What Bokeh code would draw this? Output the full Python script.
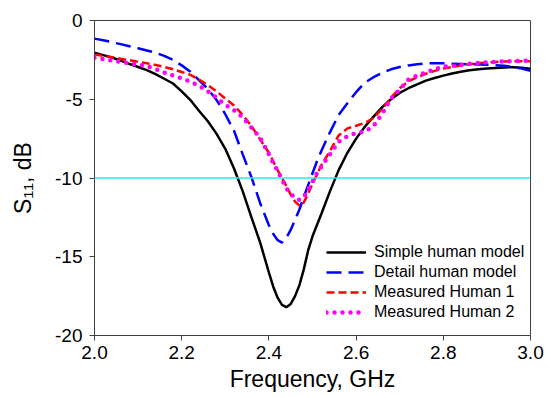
from bokeh.plotting import figure
from bokeh.models import Range1d, FixedTicker, Legend, LegendItem, Span
from bokeh.embed import file_html
from bokeh.resources import INLINE

# Frequency grid (GHz)
freq = [2.00, 2.02, 2.04, 2.06, 2.08, 2.10, 2.12, 2.14, 2.16, 2.18,
        2.20, 2.22, 2.24, 2.26, 2.28, 2.30, 2.32, 2.34, 2.36, 2.38,
        2.40, 2.41, 2.42, 2.43, 2.44, 2.45, 2.46, 2.47, 2.48, 2.49,
        2.50, 2.51, 2.52,
        2.54, 2.56, 2.58, 2.60, 2.62, 2.64, 2.66, 2.68, 2.70, 2.72,
        2.74, 2.76, 2.78, 2.80, 2.82, 2.84, 2.86, 2.88, 2.90, 2.92,
        2.94, 2.96, 2.98, 3.00]

simple_model = [-2.05, -2.2, -2.35, -2.55, -2.75, -2.95, -3.15, -3.4, -3.7, -4.0,
                -4.5, -5.05, -5.75, -6.4, -7.2, -8.15, -9.4, -10.85, -12.5, -14.1,
                -16.0, -16.9, -17.6, -18.05, -18.2, -18.0, -17.5, -16.8, -15.8, -14.6,
                -13.7, -13.0, -12.3,
                -10.85, -9.5, -8.4, -7.5, -6.75, -6.1, -5.5, -5.0, -4.6, -4.3,
                -4.05, -3.82, -3.65, -3.5, -3.36, -3.25, -3.16, -3.1, -3.05, -3.01,
                -2.98, -2.97, -3.0, -3.07]

detail_model = [-1.15, -1.25, -1.38, -1.5, -1.63, -1.76, -1.9, -2.05, -2.25, -2.5,
                -2.85, -3.25, -3.8, -4.35, -5.05, -5.95, -7.0, -8.5, -9.95, -11.6,
                -13.0, -13.55, -13.95, -14.1, -13.8, -13.3, -12.65, -12.0, -11.2, -10.45,
                -9.7, -8.95, -8.3,
                -7.1, -6.0, -5.25, -4.55, -3.95, -3.6, -3.32, -3.1, -2.95, -2.85,
                -2.78, -2.72, -2.71, -2.72, -2.74, -2.76, -2.78, -2.79, -2.81, -2.84,
                -2.88, -2.95, -3.05, -3.2]

measured_1 = [-2.15, -2.25, -2.33, -2.43, -2.52, -2.62, -2.72, -2.82, -2.95, -3.1,
              -3.27, -3.45, -3.75, -4.1, -4.5, -4.95, -5.4, -6.0, -6.7, -7.55,
              -8.4, -8.95, -9.5, -10.0, -10.5, -11.05, -11.5, -11.75, -11.55, -11.0,
              -10.35, -9.8, -9.2,
              -8.3, -7.3, -6.85, -6.68, -6.5, -6.2, -5.6, -4.9, -4.3, -3.85,
              -3.6, -3.38, -3.2, -3.05, -2.95, -2.86, -2.78, -2.72, -2.67, -2.63,
              -2.6, -2.59, -2.58, -2.58]

measured_2 = [-2.37, -2.45, -2.55, -2.63, -2.71, -2.8, -2.9, -3.08, -3.3, -3.5,
              -3.68, -3.88, -4.15, -4.5, -4.9, -5.35, -5.7, -6.15, -6.8, -7.45,
              -8.5, -9.05, -9.55, -10.1, -10.65, -11.0, -11.25, -11.4, -11.2, -10.75,
              -10.25, -9.7, -9.3,
              -8.5, -7.7, -7.35, -7.15, -7.05, -6.7, -5.9, -4.95, -4.4, -3.75,
              -3.5, -3.3, -3.08, -2.94, -2.88, -2.82, -2.75, -2.7, -2.66, -2.63,
              -2.6, -2.58, -2.56, -2.54]

reference_level = -10
x_ticks = [2.0, 2.2, 2.4, 2.6, 2.8, 3.0]
x_tick_labels = ["2.0", "2.2", "2.4", "2.6", "2.8", "3.0"]
y_ticks = [-20, -15, -10, -5, 0]
y_tick_labels = ["-20", "-15", "-10", "-5", "0"]
series_names = ["Simple human model", "Detail human model",
                "Measured Human 1", "Measured Human 2"]

FONT = "Liberation Sans"

p = figure(width=551, height=398, output_backend="svg", toolbar_location=None,
           x_range=Range1d(2.0, 3.0), y_range=Range1d(-20, 0),
           min_border_left=94, min_border_right=21, min_border_top=20,
           min_border_bottom=63)
p.grid.visible = False
p.outline_line_color = "#404040"
p.outline_line_width = 1
p.background_fill_color = "white"
p.border_fill_color = "white"

p.xaxis.ticker = FixedTicker(ticks=x_ticks)
p.xaxis.major_label_overrides = {t: l for t, l in zip(x_ticks, x_tick_labels)}
p.yaxis.ticker = FixedTicker(ticks=y_ticks)
p.yaxis.major_label_overrides = {t: l for t, l in zip(y_ticks, y_tick_labels)}

for ax in (p.xaxis, p.yaxis):
    ax.axis_line_color = "#404040"
    ax.major_tick_line_color = "#404040"
    ax.major_tick_in = 0
    ax.major_tick_out = 5
    ax.minor_tick_line_color = None
    ax.major_label_text_font = FONT
    ax.major_label_text_font_size = "19px"
    ax.major_label_text_color = "black"
    ax.axis_label_text_font = FONT
    ax.axis_label_text_font_size = "23px"
    ax.axis_label_text_font_style = "normal"
    ax.axis_label_text_color = "black"

p.xaxis.axis_label = "Frequency, GHz"
p.xaxis.major_label_standoff = 5
p.xaxis.axis_label_standoff = 4
p.yaxis.axis_label = "S\u2081\u2081, dB"
p.yaxis.major_label_standoff = 7
p.yaxis.axis_label_standoff = 16

p.add_layout(Span(location=reference_level, dimension="width",
                  line_color="#22EEEE", line_width=1.5))

r1 = p.line(freq, simple_model, line_color="black", line_width=2.5)
r2 = p.line(freq, detail_model, line_color="#0000FF", line_width=2.5,
            line_dash="15 7")
r3 = p.line(freq, measured_1, line_color="#FF0000", line_width=2.5,
            line_dash="8 4")
r4 = p.line(freq, measured_2, line_color="#FF00FF", line_width=4.5,
            line_dash="0 8", line_cap="round")

legend = Legend(items=[LegendItem(label=n, renderers=[r])
                       for n, r in zip(series_names, [r1, r2, r3, r4])],
                location=(232, 13))
legend.border_line_alpha = 0
legend.background_fill_alpha = 0
legend.padding = 0
legend.margin = 0
legend.spacing = 0
legend.label_height = 20
legend.glyph_height = 20
legend.glyph_width = 40
legend.label_standoff = 8
legend.label_text_font = FONT
legend.label_text_font_size = "16px"
legend.label_text_color = "black"
p.add_layout(legend, "center")

open("out.html", "w").write(file_html(p, INLINE))
